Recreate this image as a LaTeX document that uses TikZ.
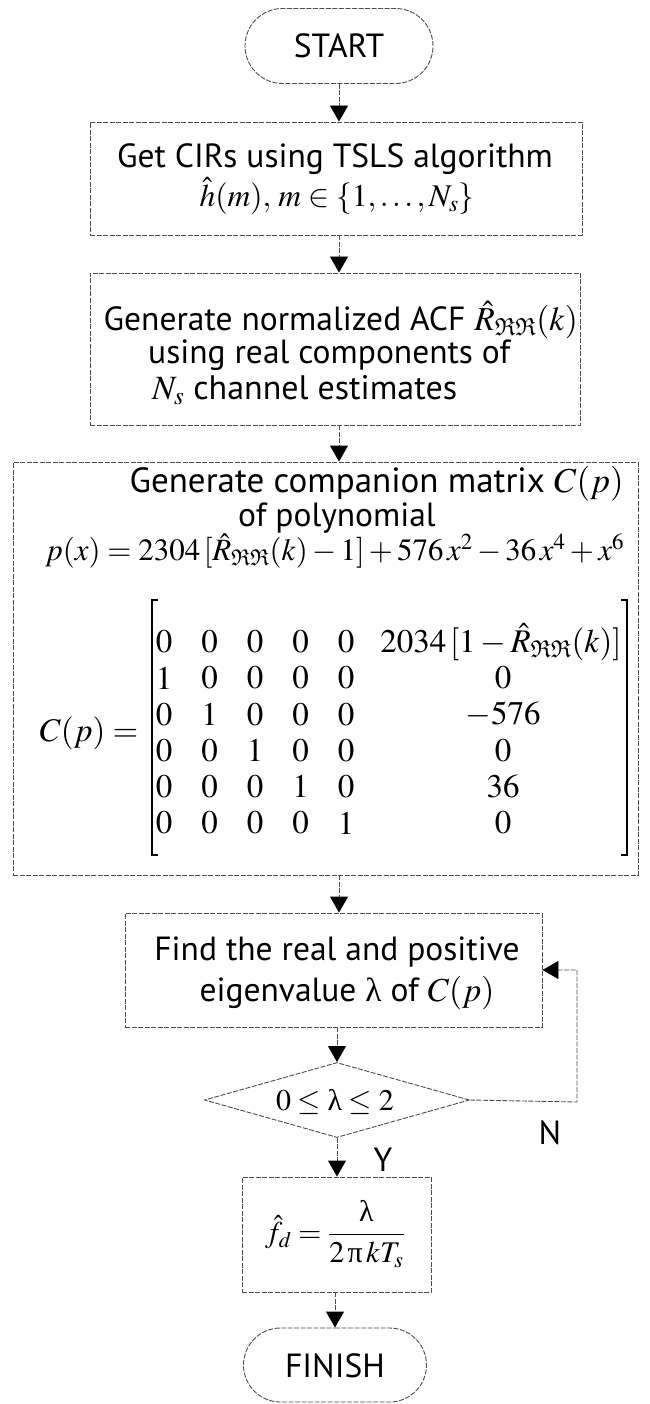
\documentclass[tikz,border=0pt]{standalone}
\usepackage{amsmath}
\usepackage{graphicx}
\usepackage{mathptmx}
\usepackage{amssymb}
\usepackage[no-math]{fontspec}
\setmainfont{PT Sans}
\newfontfamily\tms{Liberation Serif}
\usetikzlibrary{arrows.meta,shapes.misc,shapes.geometric}
\newcommand{\RR}{\hat R_{\mathfrak{R}\mathfrak{R}}}
\newcommand{\lam}{\text{\tms λ}}
\newcommand{\ppi}{\text{\tms π}}
\begin{document}
\begin{tikzpicture}[x=1pt,y=-1pt,
  line/.style={draw=black!70,line width=0.9pt,dash pattern=on 5pt off 1.5pt},
  box/.style={line,rectangle,inner sep=0pt},
  term/.style={line,rounded rectangle,inner sep=0pt},
  conn/.style={line,-{Triangle[width=18pt,length=16pt,black]}},
  txt/.style={font=\fontsize{33.5}{38}\selectfont,inner sep=0pt},
  mtxt/.style={font=\fontsize{33}{38}\selectfont,inner sep=0pt},
  bracket/.style={draw=black,line width=2pt}
]
\useasboundingbox (0,0) rectangle (649,1404);
% shapes
\node[term,minimum width=188pt,minimum height=75pt] (start) at (339,46) {};
\node[txt] (starttxt) at (339,46) {START};
\node[box,minimum width=492pt,minimum height=113pt] (b1) at (336,178.5) {};
\node[box,minimum width=490pt,minimum height=152pt] (b2) at (335,349) {};
\node[box,minimum width=625pt,minimum height=413pt] (b3) at (325.5,668.5) {};
\node[box,minimum width=417pt,minimum height=114pt] (b4) at (333.5,970) {};
\node[line,diamond,inner sep=0pt,minimum width=265pt,minimum height=75pt] (dia) at (337,1100) {};
\node[box,minimum width=189pt,minimum height=115pt] (b5) at (336.5,1234.5) {};
\node[term,minimum width=183pt,minimum height=74pt] (finish) at (335,1365) {};
\node[txt] (finishtxt) at (335,1366) {FINISH};
% box 1 text
\node[txt] (t11) at (335,159) {Get CIRs using TSLS algorithm};
\node[txt] (t12) at (337,196) {\resizebox{275pt}{!}{$\hat h(m),\, m\in\{1,\ldots,N_s\}$}};
% box 2 text
\node[txt,anchor=east,font=\fontsize{33.5}{38}\selectfont] (t21) at (578,320) {Generate normalized ACF $\RR(k)$};
\node[txt,anchor=west] (t22) at (148,355) {using real components of};
\node[txt,anchor=west,font=\fontsize{34}{38}\selectfont] (t23) at (152,390) {$N_s$ channel estimates};
% box 3 text
\node[txt,anchor=east,font=\fontsize{35}{40}\selectfont] (t31) at (624,484) {Generate companion matrix $C(p)$};
\node[txt] (t32) at (337,518) {of polynomial};
\node[mtxt] (t33) at (334.5,551) {\resizebox{579pt}{!}{$p(x)=2304\,[\RR(k)-1]+576\,x^2-36\,x^4+x^6$}};
\node[mtxt] (cp) at (89,733) {$C(p)=$};
\foreach \r in {1,...,6}{
  \foreach \c in {1,...,5}{
    \pgfmathtruncatemacro\v{(\r==\c+1)?1:0}
    \node[mtxt] (m-\r-\c) at ({164+45.5*(\c-1)},{642+36.2*(\r-1)}) {$\v$};
  }
}
\node[mtxt] (m-1-6) at (501,642) {$2034\,[1-\RR(k)]$};
\node[mtxt] (m-2-6) at (503,678.2) {$0$};
\node[mtxt] (m-3-6) at (503,714.4) {$-576$};
\node[mtxt] (m-4-6) at (503,750.6) {$0$};
\node[mtxt] (m-5-6) at (503,786.8) {$36$};
\node[mtxt] (m-6-6) at (503,823) {$0$};
\coordinate (lbt) at (152,600);
\coordinate (lbb) at (152,855);
\coordinate (rbt) at (627,600);
\coordinate (rbb) at (627,855);
\draw[bracket] ([xshift=6pt]lbt) -- (lbt) -- (lbb) -- ([xshift=6pt]lbb);
\draw[bracket] ([xshift=-6pt]rbt) -- (rbt) -- (rbb) -- ([xshift=-6pt]rbb);
% box 4 text
\node[txt] (t41) at (337,952) {Find the real and positive};
\node[txt] (t42) at (347,993) {eigenvalue $\lam$ of $C(p)$};
% diamond text
\node[mtxt,font=\fontsize{30}{36}\selectfont] (t51) at (335,1102) {$0\le\lam\le 2$};
% formula
\node[mtxt,font=\fontsize{30}{36}\selectfont] (t61) at (335,1234) {$\hat f_d=\dfrac{\lam}{2\,\ppi\, kT_s}$};
% labels
\node[txt] (ylab) at (383,1160) {Y};
\node[txt] (nlab) at (550,1133) {N};
% connectors
\draw[conn] (start.south) -- (start.south |- b1.north);
\draw[conn] (b1.south -| start.south) -- (b2.north -| start.south);
\draw[conn] (b2.south -| start.south) -- (b3.north -| start.south);
\draw[conn] (b3.south -| start.south) -- (b4.north -| start.south);
\draw[conn] (b4.south -| dia.north) -- (dia.north);
\draw[conn] (dia.south) -- (b5.north -| dia.south);
\draw[conn] (b5.south -| finish.north) -- (finish.north);
\coordinate (fb) at (577,1102);
\draw[conn] (dia.east) -- (fb) |- (b4.east);
\end{tikzpicture}
\end{document}
